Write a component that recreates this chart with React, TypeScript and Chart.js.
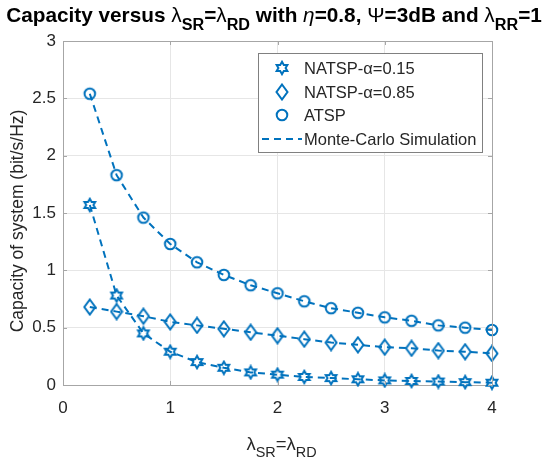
import { useEffect, useRef } from "react";
import { Chart, registerables } from "chart.js";

Chart.register(...registerables);

const lambdaSR = [0.25, 0.5, 0.75, 1, 1.25, 1.5, 1.75, 2, 2.25, 2.5, 2.75, 3, 3.25, 3.5, 3.75, 4];
const natspAlpha015 = [1.57, 0.78, 0.45, 0.29, 0.2, 0.15, 0.11, 0.09, 0.07, 0.06, 0.05, 0.04, 0.035, 0.03, 0.025, 0.02];
const natspAlpha085 = [0.68, 0.64, 0.6, 0.55, 0.52, 0.49, 0.46, 0.43, 0.4, 0.37, 0.35, 0.33, 0.32, 0.3, 0.29, 0.275];
const atsp = [2.54, 1.83, 1.46, 1.23, 1.07, 0.96, 0.87, 0.8, 0.73, 0.67, 0.63, 0.59, 0.56, 0.52, 0.5, 0.48];
const seriesLabels = ["NATSP-\u03b1=0.15", "NATSP-\u03b1=0.85", "ATSP"];
const simulationLabel = "Monte-Carlo Simulation";
const xTicks = [0, 1, 2, 3, 4];
const yTicks = [0, 0.5, 1, 1.5, 2, 2.5, 3];

const BLUE = "#0072BD";
const TEXT = "#262626";
const AXIS = "#a6a6a6";
const FONT = '"Liberation Sans", Arial, sans-serif';

type Part = { t: string; sub?: boolean; b?: boolean; i?: boolean };

const titleParts: Part[] = [
  { t: "Capacity versus ", b: true },
  { t: "\u03bb" },
  { t: "SR", sub: true, b: true },
  { t: "=", b: true },
  { t: "\u03bb" },
  { t: "RD", sub: true, b: true },
  { t: " with ", b: true },
  { t: "\u03b7", i: true },
  { t: "=0.8, ", b: true },
  { t: "\u03a8" },
  { t: "=3dB and ", b: true },
  { t: "\u03bb" },
  { t: "RR", sub: true, b: true },
  { t: "=1", b: true },
];

const xLabelParts: Part[] = [
  { t: "\u03bb" },
  { t: "SR", sub: true },
  { t: "=" },
  { t: "\u03bb" },
  { t: "RD", sub: true },
];

const yLabel = "Capacity of system (bit/s/Hz)";

function partFont(p: Part, size: number, subScale: number) {
  const s = p.sub ? size * subScale : size;
  return `${p.i ? "italic " : ""}${p.b ? "bold " : ""}${s}px ${FONT}`;
}

function measureRich(ctx: CanvasRenderingContext2D, parts: Part[], size: number, subScale: number) {
  let w = 0;
  for (const p of parts) {
    ctx.font = partFont(p, size, subScale);
    w += ctx.measureText(p.t).width;
  }
  return w;
}

function drawRich(
  ctx: CanvasRenderingContext2D,
  parts: Part[],
  cx: number,
  baseline: number,
  size: number,
  subScale: number,
  subOffset: number,
  color: string
) {
  const total = measureRich(ctx, parts, size, subScale);
  let x = cx - total / 2;
  ctx.save();
  ctx.fillStyle = color;
  ctx.textAlign = "left";
  ctx.textBaseline = "alphabetic";
  for (const p of parts) {
    ctx.font = partFont(p, size, subScale);
    ctx.fillText(p.t, x, baseline + (p.sub ? subOffset : 0));
    x += ctx.measureText(p.t).width;
  }
  ctx.restore();
}

function makeHexagram(): HTMLCanvasElement {
  const c = document.createElement("canvas");
  c.width = 16;
  c.height = 16;
  const g = c.getContext("2d")!;
  const cx = 8, cy = 8, r = 6.2, ri = r / Math.sqrt(3);
  g.beginPath();
  for (let k = 0; k < 12; k++) {
    const ang = (-90 + k * 30) * Math.PI / 180;
    const rr = k % 2 === 0 ? r : ri;
    const px = cx + rr * Math.cos(ang);
    const py = cy + rr * Math.sin(ang);
    if (k === 0) g.moveTo(px, py); else g.lineTo(px, py);
  }
  g.closePath();
  g.strokeStyle = BLUE;
  g.lineWidth = 2;
  g.lineJoin = "miter";
  g.stroke();
  return c;
}

function makeDiamond(): HTMLCanvasElement {
  const c = document.createElement("canvas");
  c.width = 14;
  c.height = 18;
  const g = c.getContext("2d")!;
  g.beginPath();
  g.moveTo(7, 1.5);
  g.lineTo(12.5, 9);
  g.lineTo(7, 16.5);
  g.lineTo(1.5, 9);
  g.closePath();
  g.strokeStyle = BLUE;
  g.lineWidth = 2;
  g.stroke();
  return c;
}

function makeCircle(): HTMLCanvasElement {
  const c = document.createElement("canvas");
  c.width = 16;
  c.height = 16;
  const g = c.getContext("2d")!;
  g.beginPath();
  g.arc(8, 8, 5.3, 0, Math.PI * 2);
  g.strokeStyle = BLUE;
  g.lineWidth = 2;
  g.stroke();
  return c;
}

export default function App() {
  const ref = useRef<HTMLCanvasElement | null>(null);

  useEffect(() => {
    if (!ref.current) return;
    const hex = makeHexagram();
    const dia = makeDiamond();
    const cir = makeCircle();
    const markers = [hex, dia, cir];

    const overlay = {
      id: "matlabOverlay",
      afterDraw(chart: any) {
        const ctx: CanvasRenderingContext2D = chart.ctx;
        const { left, right, top, bottom } = chart.chartArea;
        const xs = chart.scales.x;
        const ys = chart.scales.y;
        ctx.save();
        // box
        ctx.strokeStyle = AXIS;
        ctx.lineWidth = 1;
        ctx.beginPath();
        ctx.moveTo(left, top + 0.5);
        ctx.lineTo(right + 0.5, top + 0.5);
        ctx.lineTo(right + 0.5, bottom);
        ctx.stroke();
        // inner ticks
        ctx.beginPath();
        for (const v of yTicks) {
          const py = Math.round(ys.getPixelForValue(v)) + 0.5;
          ctx.moveTo(left, py);
          ctx.lineTo(left + 4, py);
          ctx.moveTo(right, py);
          ctx.lineTo(right - 4, py);
        }
        for (const v of xTicks) {
          const px = Math.round(xs.getPixelForValue(v)) + 0.5;
          ctx.moveTo(px, bottom);
          ctx.lineTo(px, bottom - 4);
          ctx.moveTo(px, top);
          ctx.lineTo(px, top + 4);
        }
        ctx.stroke();

        // legend
        const lx0 = right - 234, lx1 = right - 10, ly0 = top + 12, ly1 = top + 111;
        ctx.fillStyle = "#fff";
        ctx.fillRect(lx0, ly0, lx1 - lx0, ly1 - ly0);
        ctx.strokeStyle = "#808080";
        ctx.lineWidth = 1;
        ctx.strokeRect(lx0 + 0.5, ly0 + 0.5, lx1 - lx0, ly1 - ly0);
        const rows = [ly0 + 15, ly0 + 39, ly0 + 62, ly0 + 86];
        const mx = lx0 + 24;
        const tx = lx0 + 46;
        for (let k = 0; k < 3; k++) {
          const m = markers[k];
          ctx.drawImage(m, mx - m.width / 2, rows[k] - m.height / 2);
        }
        ctx.strokeStyle = BLUE;
        ctx.lineWidth = 2;
        ctx.setLineDash([7, 5]);
        ctx.beginPath();
        ctx.moveTo(lx0 + 4, rows[3]);
        ctx.lineTo(lx0 + 44, rows[3]);
        ctx.stroke();
        ctx.setLineDash([]);
        ctx.fillStyle = TEXT;
        ctx.font = `16.5px ${FONT}`;
        ctx.textAlign = "left";
        ctx.textBaseline = "middle";
        const labels = [...seriesLabels, simulationLabel];
        labels.forEach((t, k) => ctx.fillText(t, tx, rows[k] + 1));

        // title (fit to width)
        const target = 536;
        const w0 = measureRich(ctx, titleParts, 20, 0.78);
        const tsize = (20 * target) / w0;
        drawRich(ctx, titleParts, 274, 22, tsize, 0.78, 8, "#000");

        // x label
        drawRich(ctx, xLabelParts, (left + right) / 2 + 4, 450, 18.5, 0.78, 7, TEXT);

        // y label
        ctx.save();
        ctx.translate(23, (top + bottom) / 2 + 8);
        ctx.rotate(-Math.PI / 2);
        ctx.fillStyle = TEXT;
        ctx.font = `17.5px ${FONT}`;
        ctx.textAlign = "center";
        ctx.textBaseline = "alphabetic";
        ctx.fillText(yLabel, 0, 0);
        ctx.restore();
        ctx.restore();
      },
    };

    const mk = (vals: number[]) => lambdaSR.map((x, i) => ({ x, y: vals[i] }));
    const seriesData = [natspAlpha015, natspAlpha085, atsp];

    const chart = new Chart(ref.current, {
      type: "line",
      data: {
        datasets: seriesData.map((vals, k) => ({
          label: seriesLabels[k],
          data: mk(vals),
          borderColor: BLUE,
          backgroundColor: BLUE,
          borderWidth: 2,
          borderDash: [7, 5],
          pointStyle: markers[k] as any,
          pointRadius: 6,
          pointHoverRadius: 6,
          tension: 0,
          fill: false,
          clip: false as any,
        })),
      },
      options: {
        animation: false,
        responsive: false,
        events: [],
        layout: { padding: { left: 0, top: 41, right: 56, bottom: 0 } },
        plugins: {
          legend: { display: false },
          title: { display: false },
          tooltip: { enabled: false },
        },
        scales: {
          x: {
            type: "linear",
            min: 0,
            max: 4,
            afterFit: (s: any) => {
              s.height = 76;
            },
            afterBuildTicks: (s: any) => {
              s.ticks = xTicks.map((v) => ({ value: v }));
            },
            ticks: {
              color: TEXT,
              font: { family: FONT, size: 17 },
              padding: 13,
              maxRotation: 0,
              callback: (v: any) => String(v),
            },
            grid: { color: "#e6e6e6", drawTicks: false },
            border: { color: AXIS, width: 1 },
          },
          y: {
            type: "linear",
            min: 0,
            max: 3,
            afterFit: (s: any) => {
              s.width = 63;
            },
            afterBuildTicks: (s: any) => {
              s.ticks = yTicks.map((v) => ({ value: v }));
            },
            ticks: {
              color: TEXT,
              font: { family: FONT, size: 17 },
              padding: 7,
              callback: (v: any) => String(v),
            },
            grid: { color: "#e6e6e6", drawTicks: false },
            border: { color: AXIS, width: 1 },
          },
        },
      },
      plugins: [overlay],
    });
    return () => chart.destroy();
  }, []);

  return (
    <div style={{ position: "fixed", left: 0, top: 0, width: 548, height: 461, background: "#fff" }}>
      <canvas ref={ref} width={548} height={461} />
    </div>
  );
}
